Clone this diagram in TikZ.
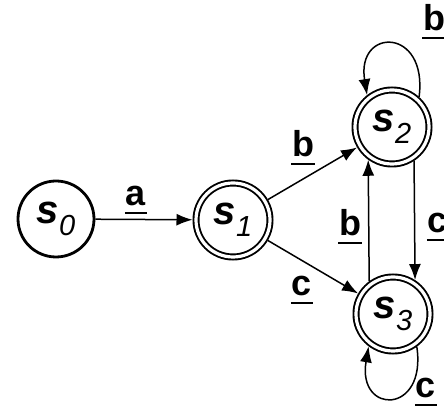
\documentclass[tikz,border=0pt]{standalone}
\usepackage{fontspec}
\setmainfont{Liberation Sans}
\usetikzlibrary{arrows.meta}
\tikzset{
  x=1pt, y=1pt,
  startstate/.style={circle, draw, line width=2.8pt, minimum size=76pt, inner sep=0pt},
  accstate/.style={circle, draw, line width=1.9pt, double, double distance=3.2pt, minimum size=74pt, inner sep=0pt, outer sep=3.5pt},
  trans/.style={line width=1.5pt, -{Latex[length=16pt,width=12pt]}},
  lbl/.style={font=\fontsize{36}{36}\selectfont\bfseries, inner sep=0pt},
}
\newcommand{\stname}[1]{{\fontsize{40}{40}\selectfont\bfseries\itshape s}\raisebox{-12pt}{\fontsize{29}{29}\selectfont\itshape #1}}
\newcommand{\ul}[1]{\setbox0\hbox{#1}\rlap{\hspace{-1pt}\raisebox{-8.5pt}{\rule{\dimexpr\wd0+2pt\relax}{2.4pt}}}\box0}
\begin{document}
\begin{tikzpicture}
\useasboundingbox (0,0) rectangle (444,409);
\clip (0,0) rectangle (444,409);
\node[startstate] (s0) at (56,190) {\stname{0}};
\node[accstate] (s1) at (233,189) {\stname{1}};
\node[accstate] (s2) at (392,282) {\stname{2}};
\node[accstate] (s3) at (393,95) {\stname{3}};

\draw[trans] (s0) -- (s1);
\draw[trans] (s1) -- (s2);
\draw[trans] (s1) -- (s3);
\draw[trans] (s2.-57) -- (s3.57);
\draw[trans] (s3.126) -- (s2.-126);
\draw[trans] (s2.48) .. controls (428,382) and (356,382) .. (s2.128);
\draw[trans] (s3.-54) .. controls (427,-6) and (357,-6) .. (s3.-127);

\node[lbl] (la) at (136,209) {\ul{a}};
\node[lbl] (lb1) at (303,261) {\ul{b}};
\node[lbl] (lc1) at (302,119) {\ul{c}};
\node[lbl] (lb2) at (350,182) {\ul{b}};
\node[lbl] (lc2) at (438,182) {\ul{c}};
\node[lbl] (lb3) at (434,387) {\ul{b}};
\node[lbl] (lc3) at (426,17) {\ul{c}};
\end{tikzpicture}
\end{document}
